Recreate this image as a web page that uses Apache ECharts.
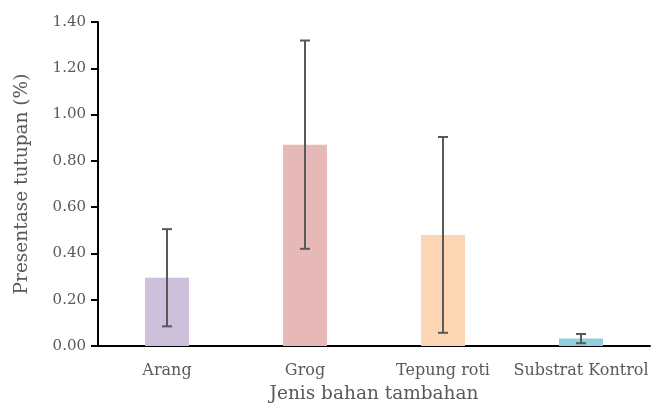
<!DOCTYPE html>
<html>
<head>
<meta charset="utf-8">
<script src="https://cdn.jsdelivr.net/npm/echarts@6/dist/echarts.min.js"></script>
<style>html,body{margin:0;padding:0;background:#fff}#c{width:662px;height:403px}</style>
</head>
<body>
<div id="c"></div>
<script>
var categories = ['Arang', 'Grog', 'Tepung roti', 'Substrat Kontrol'];
var means = [0.295, 0.87, 0.48, 0.032];
var errors = [0.21, 0.45, 0.423, 0.02];
var barColors = ['#CCC0DA', '#E6B8B7', '#FCD5B4', '#92CDDC'];
var yTicks = [0, 0.2, 0.4, 0.6, 0.8, 1.0, 1.2, 1.4];

var font = 'DejaVu Serif';
var chart = echarts.init(document.getElementById('c'));
chart.setOption({
  animation: false,
  grid: {left: 98, right: 12, top: 22, bottom: 57, outerBoundsMode: 'none', containLabel: false},
  xAxis: {
    type: 'category',
    data: categories,
    axisLine: {lineStyle: {color: '#000', width: 2}},
    axisTick: {show: false},
    axisLabel: {color: '#595959', fontFamily: font, fontSize: 16, margin: 17, interval: 0},
    name: 'Jenis bahan tambahan',
    nameLocation: 'middle',
    nameGap: 39,
    nameTextStyle: {color: '#595959', fontFamily: font, fontSize: 18.5}
  },
  yAxis: {
    type: 'value',
    min: yTicks[0],
    max: yTicks[yTicks.length - 1],
    interval: 0.2,
    axisLine: {show: true, lineStyle: {color: '#000', width: 2}},
    axisTick: {show: true, length: 7, lineStyle: {color: '#000', width: 2}},
    splitLine: {show: false},
    axisLabel: {color: '#595959', fontFamily: font, fontSize: 15, margin: 12,
      formatter: function (v) { return v.toFixed(2); }},
    name: 'Presentase tutupan (%)',
    nameLocation: 'middle',
    nameGap: 66,
    nameTextStyle: {color: '#595959', fontFamily: font, fontSize: 18.5}
  },
  series: [
    {
      type: 'bar',
      barWidth: 44,
      data: means.map(function (v, i) { return {value: v, itemStyle: {color: barColors[i]}}; }),
      z: 2
    },
    {
      type: 'custom',
      z: 3,
      data: means.map(function (v, i) { return [i, v - errors[i], v + errors[i]]; }),
      renderItem: function (params, api) {
        var lo = api.coord([api.value(0), api.value(1)]);
        var hi = api.coord([api.value(0), api.value(2)]);
        var hw = 5;
        var style = {stroke: '#595959', lineWidth: 2};
        return {
          type: 'group',
          children: [
            {type: 'line', shape: {x1: lo[0], y1: lo[1], x2: hi[0], y2: hi[1]}, style: style},
            {type: 'line', shape: {x1: lo[0] - hw, y1: lo[1], x2: lo[0] + hw, y2: lo[1]}, style: style},
            {type: 'line', shape: {x1: hi[0] - hw, y1: hi[1], x2: hi[0] + hw, y2: hi[1]}, style: style}
          ]
        };
      }
    }
  ]
});
</script>
</body>
</html>
